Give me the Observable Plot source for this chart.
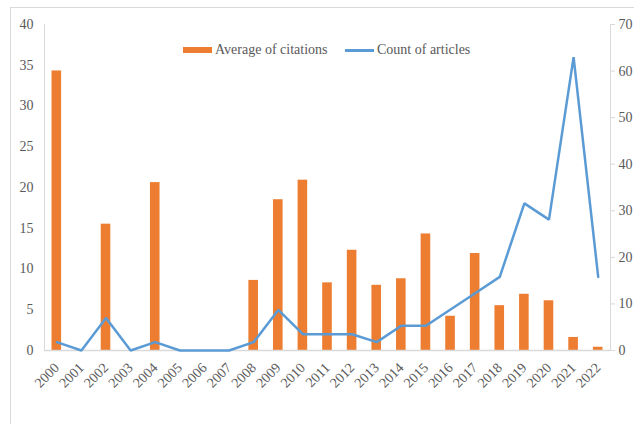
<!DOCTYPE html>
<html>
<head>
<meta charset="utf-8">
<script src="https://cdn.jsdelivr.net/npm/d3@7"></script>
<script src="https://cdn.jsdelivr.net/npm/@observablehq/plot@0.6"></script>
<style>
  html, body { margin: 0; padding: 0; background: #fff; overflow: hidden; }
  #wrap { position: relative; width: 634px; height: 424px; font-family: "Liberation Serif", "Times New Roman", serif; }
  #border { position: absolute; left: 10px; top: 7px; width: 700px; height: 500px; border: 1px solid #d9d9d9; box-sizing: border-box; }
  #chart { position: absolute; left: 0; top: 0; }
  .legend { position: absolute; top: 42px; font-size: 14px; color: #595959; display: flex; align-items: center; white-space: nowrap; }
  .sw-bar { display: inline-block; width: 29px; height: 6px; background: #ED7D31; margin-right: 3px; }
  .sw-line { display: inline-block; width: 29px; height: 3px; background: #5B9BD5; margin-right: 3px; }
</style>
</head>
<body>
<div id="wrap">
  <div id="border"></div>
  <div id="chart"></div>
  <div class="legend" style="left:183px"><span class="sw-bar"></span>Average of citations</div>
  <div class="legend" style="left:345px"><span class="sw-line"></span>Count of articles</div>
</div>
<script>
const years = ["2000","2001","2002","2003","2004","2005","2006","2007","2008","2009","2010","2011","2012","2013","2014","2015","2016","2017","2018","2019","2020","2021","2022"];
const avgCitations = [34.3, 0, 15.5, 0, 20.6, 0, 0, 0, 8.6, 18.5, 20.9, 8.3, 12.3, 8.0, 8.8, 14.3, 4.2, 11.9, 5.5, 6.9, 6.1, 1.6, 0.4];
const countArticles = [1.8, 0, 7, 0, 1.8, 0, 0, 0, 1.8, 8.7, 3.5, 3.5, 3.5, 1.8, 5.3, 5.3, 8.8, 12.3, 15.8, 31.6, 28.1, 63, 15.8];
const leftTicks = [0, 5, 10, 15, 20, 25, 30, 35, 40];
const rightTicks = [0, 10, 20, 30, 40, 50, 60, 70];
const leftMax = 40, rightMax = 70;

const data = years.map((y, i) => ({year: y, avg: avgCitations[i], count: countArticles[i]}));
const toLeft = v => v * leftMax / rightMax;

const chart = Plot.plot({
  width: 634,
  height: 424,
  marginLeft: 44,
  marginRight: 24,
  marginTop: 24,
  marginBottom: 74,
  style: {fontFamily: '"Liberation Serif", "Times New Roman", serif', fontSize: "14px", color: "#595959", background: "transparent"},
  x: {domain: years, paddingInner: 0.61, paddingOuter: 0.305, round: false, label: null},
  y: {domain: [0, leftMax], label: null},
  marks: [
    Plot.frame({anchor: "left", stroke: "#d9d9d9", strokeWidth: 1}),
    Plot.frame({anchor: "right", stroke: "#d9d9d9", strokeWidth: 1}),
    Plot.barY(data, {x: "year", y: "avg", fill: "#ED7D31"}),
    Plot.ruleY([0], {stroke: "#d9d9d9", strokeWidth: 1.5}),
    Plot.line(data, {x: "year", y: d => toLeft(d.count), stroke: "#5B9BD5", strokeWidth: 2.5, strokeLinejoin: "miter"}),
    Plot.axisY(leftTicks, {anchor: "left", tickSize: 0, tickPadding: 11, fontSize: 14, label: null}),
    Plot.axisY(rightTicks.map(toLeft), {anchor: "right", tickSize: 4, tickPadding: 4, stroke: "#d9d9d9", fontSize: 14, label: null, tickFormat: d => Math.round(d * rightMax / leftMax)}),
    Plot.axisX({tickRotate: -45, tickSize: 0, tickPadding: 15, fontSize: 14, label: null})
  ]
});
document.getElementById("chart").appendChild(chart);
</script>
</body>
</html>
